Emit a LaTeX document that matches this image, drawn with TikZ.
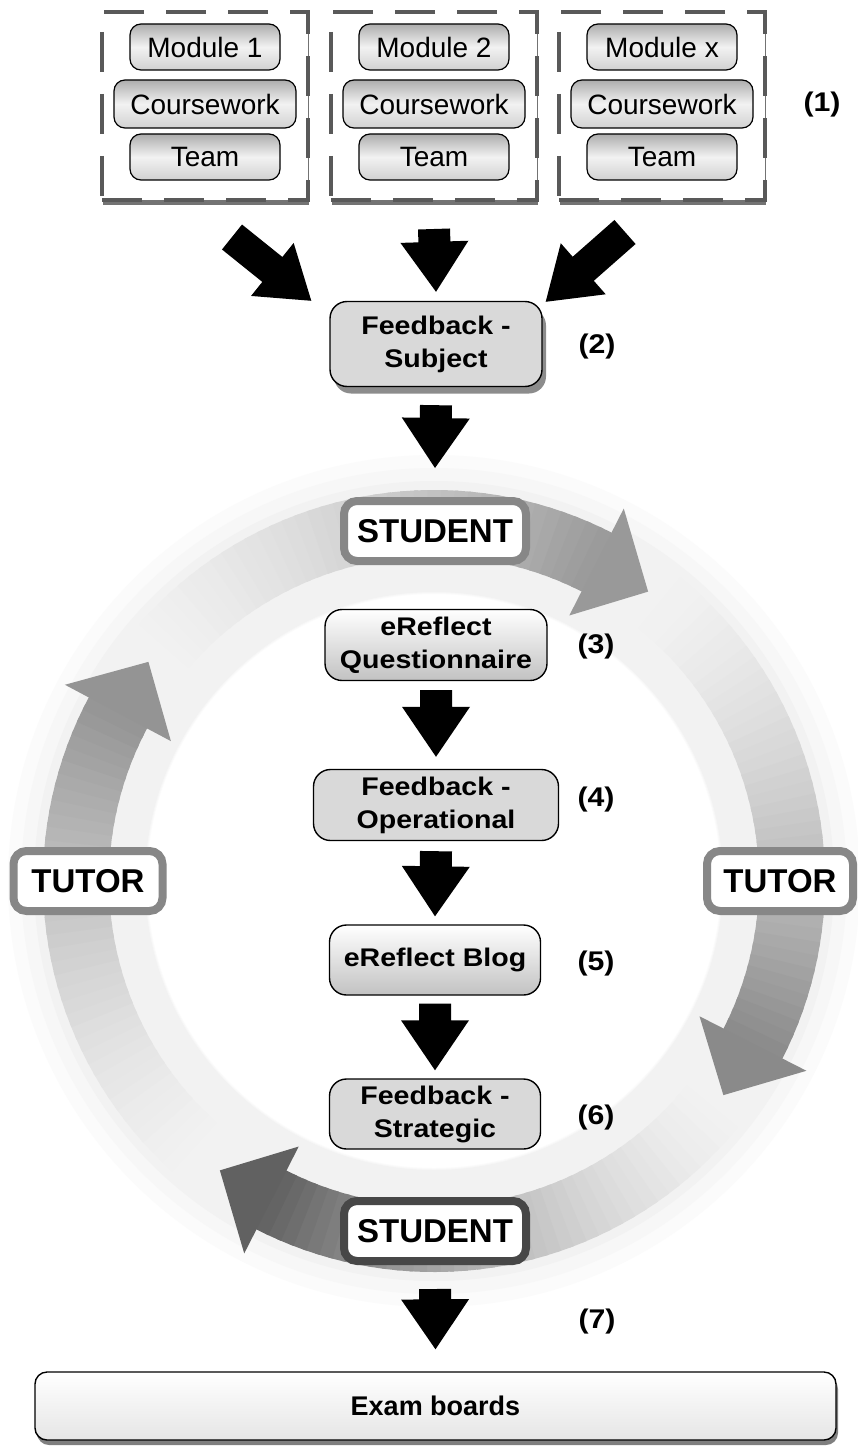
\documentclass[tikz,border=0pt]{standalone}
\usepackage{fontspec}
\setmainfont{Liberation Sans}
\newfontfamily\widebf[FakeStretch=1.12]{Liberation Sans}
\usetikzlibrary{calc,shadows}
\tikzset{
 dbox/.style={draw=black!65, line width=4pt, dash pattern=on 40pt off 22pt, fill=white,
   minimum width=206pt, minimum height=188pt, inner sep=0pt,
   drop shadow={shadow xshift=1pt, shadow yshift=-5pt, opacity=0.55, fill=black}},
 modbox/.style={draw=black, line width=1.2pt, rounded corners=11pt, top color=black!32,
   bottom color=black!18, middle color=black!5, inner sep=0pt, minimum height=46pt,
   font=\fontsize{28pt}{32pt}\selectfont},
 rolebox/.style={draw=black!47, line width=8pt, rounded corners=13pt, fill=white,
   inner sep=0pt, minimum height=60pt, font=\fontsize{33pt}{36pt}\selectfont\bfseries},
 flowbox/.style={draw=black, line width=1.4pt, rounded corners=17pt, inner sep=0pt,
   align=center, font=\fontsize{25.5pt}{33pt}\widebf\bfseries},
 gloss/.style={flowbox, top color=white, bottom color=black!24},
 flat/.style={flowbox, fill=black!15},
 numlabel/.style={inner sep=0pt, font=\fontsize{27pt}{30pt}\widebf\bfseries},
 blockarrow/.style={fill=black},
 ringseg/.style={line width=66pt},
 softshadow/.style={drop shadow={shadow xshift=4pt, shadow yshift=-7pt, opacity=0.45, fill=black}}
}
% block arrow from tail #1 to tip #2: shaft 32 wide, head 68 wide and 50 long
\newcommand\bigarr[2]{%
  \coordinate (bt) at #1; \coordinate (bh) at #2;
  \coordinate (bb) at ($(bh)!50pt!(bt)$);
  \fill[blockarrow] ($(bt)!16pt!90:(bh)$) -- ($(bb)!16pt!90:(bh)$) -- ($(bb)!34pt!90:(bh)$)
    -- (bh) -- ($(bb)!34pt!-90:(bh)$) -- ($(bb)!16pt!-90:(bh)$) -- ($(bt)!16pt!-90:(bh)$) -- cycle;}
\begin{document}
\begin{tikzpicture}[x=1pt,y=1pt]
\useasboundingbox (0,0) rectangle (858,-1447);
\fill[white] (0,0) rectangle (858,-1447);

% ---------- ring ----------
\coordinate (C) at (434,-881);
\fill[black!1.5, even odd rule] (C) circle (426) (C) circle (287);
\fill[black!3, even odd rule] (C) circle (413) (C) circle (288);
\fill[black!5, even odd rule] (C) circle (400) (C) circle (289);
\foreach \hA/\eC in {63/40,-27/46,-117/62,152/42}{
  \foreach \j in {0,...,39}{
    \pgfmathsetmacro\sA{\hA+80-\j*2}
    \pgfmathsetmacro\sB{\hA+80-(\j+1)*2-0.7}
    \pgfmathsetmacro\sC{5+(\eC-5)*((\j+0.5)/40)^1.5}
    \draw[ringseg, draw=black!\sC] ($(C)+(\sA:358)$) arc[start angle=\sA, end angle=\sB, radius=358];
  }
}
\foreach \hA/\eC in {63/40,-27/46,-117/62,152/42}{
  \fill[black!\eC] ($(C)+(\hA:298)$) -- ($(C)+(\hA-9.5:360)$) -- ($(C)+(\hA:418)$) -- cycle;
}

% ---------- role labels ----------
\node[rolebox, minimum width=182pt] (stu1) at (435,-531) {STUDENT};
\node[rolebox, minimum width=149pt] (tutl) at (88,-881) {TUTOR};
\node[rolebox, minimum width=146pt] (tutr) at (780,-881) {TUTOR};
\node[rolebox, draw=black!72, minimum width=182pt] (stu2) at (435,-1231) {STUDENT};

% ---------- modules ----------
\foreach \n/\cx/\lab in {1/205/Module 1, 2/434/Module 2, 3/662/Module x}{
  \node[dbox] (box\n) at (\cx,-106) {};
  \node[modbox, minimum width=150pt] (mod\n) at (\cx,-47) {\lab};
  \node[modbox, minimum width=182pt, minimum height=48pt] (cw\n) at (\cx,-104) {Coursework};
  \node[modbox, minimum width=150pt] (team\n) at (\cx,-157) {Team};
}

% ---------- flow boxes ----------
\node[flat, softshadow, minimum width=212pt, minimum height=85pt] (fbs) at (436,-344) {Feedback -\\Subject};
\node[gloss, minimum width=222pt, minimum height=71pt] (erq) at (436,-645) {eReflect\\Questionnaire};
\node[flat, minimum width=245pt, minimum height=71pt] (fo) at (436,-805) {Feedback -\\Operational};
\node[gloss, minimum width=211pt, minimum height=70pt] (eb) at (435,-960) {eReflect Blog};
\node[flat, minimum width=211pt, minimum height=70pt] (fs) at (435,-1114) {Feedback -\\Strategic};
\node[draw=black, line width=1.4pt, rounded corners=12pt, top color=white, bottom color=black!10,
  minimum width=801pt, minimum height=68pt, inner sep=0pt,
  font=\fontsize{27pt}{30pt}\selectfont\bfseries,
  drop shadow={shadow xshift=2pt, shadow yshift=-5pt, opacity=0.5, fill=black}] (exam) at (435.5,-1406) {Exam boards};

% ---------- step numbers ----------
\node[numlabel] (n1) at (822,-105) {(1)};
\node[numlabel] (n2) at (597,-347) {(2)};
\node[numlabel] (n3) at (596,-647) {(3)};
\node[numlabel] (n4) at (596,-800) {(4)};
\node[numlabel] (n5) at (596,-964) {(5)};
\node[numlabel] (n6) at (596,-1118) {(6)};
\node[numlabel] (n7) at (597,-1322) {(7)};

% ---------- block arrows ----------
\bigarr{($(box1.south)+(27,-35)$)}{($(fbs.north west)+(-18,0)$)}
\bigarr{($(box2.south)+(0,-27)$)}{($(fbs.north)+(0,9)$)}
\bigarr{($(box3.south)+(-37,-30)$)}{($(fbs.north east)+(3,-1)$)}
\bigarr{($(fbs.south)+(0,-18)$)}{($(stu1.north)+(0,29)$)}
\bigarr{($(erq.south)+(0,-9)$)}{($(fo.north)+(0,12)$)}
\bigarr{($(fo.south)+(0,-10)$)}{($(eb.north)+(0,8)$)}
\bigarr{($(eb.south)+(0,-8)$)}{($(fs.north)+(0,8)$)}
\bigarr{($(stu2.south)+(0,-24)$)}{($(exam.north)+(0,22)$)}
\end{tikzpicture}
\end{document}
